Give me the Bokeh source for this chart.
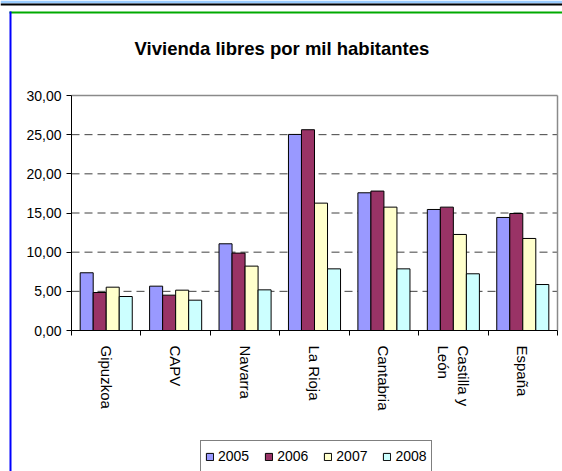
import numpy as np
from bokeh.plotting import figure
from bokeh.models import (ColumnDataSource, FixedTicker, Legend, LegendItem,
                          Range1d, Label, BoxAnnotation)
from bokeh.transform import dodge
from bokeh.embed import file_html
from bokeh.resources import INLINE

# ---- data ----
regions = ["Gipuzkoa", "CAPV", "Navarra", "La Rioja", "Cantabria",
           "Castilla y\nLeón", "España"]
years = ["2005", "2006", "2007", "2008"]
v2005 = [7.37, 5.66, 11.07, 25.03, 17.58, 15.45, 14.43]
v2006 = [4.85, 4.51, 9.88, 25.63, 17.80, 15.75, 14.94]
v2007 = [5.53, 5.15, 8.22, 16.26, 15.75, 12.26, 11.75]
v2008 = [4.34, 3.87, 5.19, 7.87, 7.87, 7.24, 5.87]
y_ticks = [0, 5, 10, 15, 20, 25, 30]
y_tick_labels = ["0,00", "5,00", "10,00", "15,00", "20,00", "25,00", "30,00"]
title_text = "Vivienda  libres por mil habitantes"

colors = ["#9999FF", "#993366", "#FFFFCC", "#CCFFFF"]
FONT = "Liberation Sans"

W, H = 562, 471
n = len(regions)
centers = [i + 0.5 for i in range(n)]
src = ColumnDataSource(dict(x=centers, y2005=v2005, y2006=v2006,
                            y2007=v2007, y2008=v2008))

px_x = (557 - 71) / n
px_y = (330 - 95) / 30.0
x_range = Range1d(-71 / px_x, n + (W - 557) / px_x)
y_range = Range1d(-(H - 330) / px_y, 30 + 95 / px_y)

p = figure(width=W, height=H, output_backend="svg", toolbar_location=None,
           x_range=x_range, y_range=y_range, min_border=0,
           background_fill_color="white", border_fill_color="white")
p.styles = {"position": "absolute", "left": "0px", "top": "0px"}


def sbox(left, right, top, bottom, color):
    return BoxAnnotation(left=left, right=right, top=H - top, bottom=H - bottom,
                         left_units="screen", right_units="screen",
                         top_units="screen", bottom_units="screen",
                         fill_color=color, fill_alpha=1, line_color=None)


p.add_layout(sbox(0, W, 0, 3, "#99CCFF"))
p.add_layout(sbox(0, W, 3, 5, "#000000"))
p.add_layout(sbox(9, W, 11, 13, "#00AA00"))
p.add_layout(sbox(9, 11, 11, H, "#0000FF"))

grid_vals = y_ticks[1:-1]
p.segment(x0=[0] * len(grid_vals), x1=[n] * len(grid_vals), y0=grid_vals,
          y1=grid_vals, line_color="#404040", line_width=1, line_dash="8 5")

p.segment(x0=[0, n], y0=[30, 0], x1=[n, n], y1=[30, 30],
          line_color="#8a8a8a", line_width=1.5)

bw = 0.1875
offsets = [-1.5 * bw, -0.5 * bw, 0.5 * bw, 1.5 * bw]
cols = ["y2005", "y2006", "y2007", "y2008"]
rends = []
for col, off, c in zip(cols, offsets, colors):
    r = p.vbar(x=dodge("x", off, range=p.x_range), top=col, width=bw, bottom=0,
               source=src, fill_color=c, line_color="black", line_width=1)
    rends.append(r)

yax = p.yaxis[0]
yax.fixed_location = 0
yax.ticker = FixedTicker(ticks=y_ticks)
yax.bounds = (0, 30)
yax.major_label_overrides = {t: l for t, l in zip(y_ticks, y_tick_labels)}
yax.major_label_text_font = FONT
yax.major_label_text_font_size = "14px"
yax.major_label_text_color = "black"
yax.axis_line_color = "black"
yax.major_tick_line_color = "black"
yax.major_tick_out = 5
yax.major_tick_in = 0
yax.minor_tick_line_color = None
yax.major_label_standoff = 5

xax = p.xaxis[0]
xax.fixed_location = 0
xax.bounds = (0, n)
xax.ticker = FixedTicker(ticks=centers, minor_ticks=list(range(n + 1)))
xax.major_label_overrides = {c: r for c, r in zip(centers, regions)}
xax.major_label_orientation = "vertical"
xax.major_label_text_font = FONT
xax.major_label_text_font_size = "15px"
xax.major_label_text_color = "black"
xax.axis_line_color = "black"
xax.major_tick_line_color = None
xax.major_tick_out = 5
xax.major_tick_in = 0
xax.minor_tick_line_color = "black"
xax.minor_tick_out = 5
xax.minor_tick_in = 0
xax.major_label_standoff = 10

p.xgrid.visible = False
p.ygrid.visible = False
p.outline_line_color = None

p.add_layout(Label(x=284, y=H - 48, x_units="screen", y_units="screen",
                   text=title_text, text_align="center",
                   text_baseline="alphabetic", text_font=FONT,
                   text_font_style="bold", text_font_size="18.5px",
                   text_color="black"))

legend = Legend(items=[LegendItem(label=y, renderers=[r]) for y, r in zip(years, rends)],
                orientation="horizontal", location=(200, -1))
legend.label_text_font = FONT
legend.label_text_font_size = "14px"
legend.label_text_color = "black"
legend.label_height = 22
legend.glyph_width = 9
legend.glyph_height = 9
legend.label_standoff = 4
legend.spacing = 15
legend.padding = 4
legend.margin = 0
legend.border_line_color = "black"
legend.border_line_width = 1
legend.background_fill_color = "white"
legend.background_fill_alpha = 1
p.add_layout(legend)

open("out.html", "w").write(file_html(p, INLINE))
